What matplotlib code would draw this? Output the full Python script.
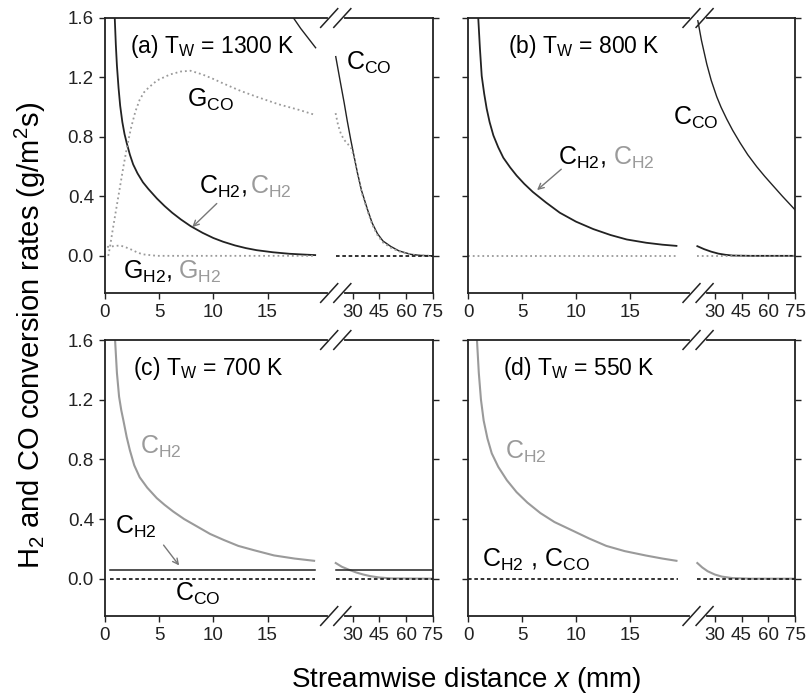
import numpy as np
import matplotlib
matplotlib.use('Agg')
import matplotlib.pyplot as plt

plt.rcParams['font.family'] = ['Liberation Sans', 'DejaVu Sans']
plt.rcParams['mathtext.fontset'] = 'custom'
plt.rcParams['mathtext.rm'] = 'Liberation Sans'
plt.rcParams['mathtext.it'] = 'Liberation Sans:italic'

GRAY = '#9a9a9a'
DARK = '#222222'

# broken x axis: 0-20 mm at full scale, 20-75 mm compressed
GAP = 1.2
K = 0.165

def fwd(x):
    x = np.asarray(x, float)
    return np.where(x <= 20, x, 20 + GAP + (x - 20) * K)

def inv(u):
    u = np.asarray(u, float)
    return np.where(u <= 20, u, np.where(u < 20 + GAP, 20, 20 + (u - 20 - GAP) / K))

# ---- panel (a) T_W = 1300 K ----
a_ch2_x = [0.9, 1.0, 1.1, 1.25, 1.4, 1.6, 1.8, 2.0, 2.3, 2.6, 3.0, 3.5, 4.0, 4.8, 5.5, 6.2, 7.0, 7.9,
           9.0, 10.0, 10.9, 12.0, 13.0, 14.0, 15.5, 17.0, 18.5, 19.4]
a_ch2_y = [1.6, 1.42, 1.28, 1.13, 1.01, 0.90, 0.82, 0.76, 0.68, 0.615, 0.555, 0.495, 0.45, 0.385, 0.335, 0.29, 0.245, 0.20,
           0.155, 0.12, 0.095, 0.07, 0.052, 0.038, 0.024, 0.014, 0.008, 0.005]
a_cco_lx = [17.4, 18.06, 19.44]
a_cco_ly = [1.6, 1.53, 1.40]
a_cco_rx = [20.6, 23, 25.3, 27, 29, 31, 32.7, 35, 38.4, 41, 43.9, 47, 51.4, 56, 62.6, 68, 75]
a_cco_ry = [1.34, 1.18, 1.03, 0.91, 0.78, 0.66, 0.56, 0.44, 0.31, 0.22, 0.15, 0.10, 0.063, 0.033, 0.01, 0.003, 0.0]
a_gco_lx = [0.3, 0.46, 0.7, 1.0, 1.35, 1.7, 2.05, 2.4, 2.8, 3.2, 3.6, 4.0, 4.8, 6.0, 7.0, 7.9,
            9.0, 10.0, 10.9, 12.5, 14.0, 16.0, 18.0, 19.3]
a_gco_ly = [0.0, 0.06, 0.17, 0.30, 0.45, 0.60, 0.74, 0.86, 0.97, 1.05, 1.10, 1.13, 1.18, 1.22, 1.24, 1.245,
            1.22, 1.19, 1.16, 1.11, 1.07, 1.02, 0.98, 0.95]
a_gco_rx = [20.5, 21.9, 23.5, 25.3, 27.5, 29.5, 31, 32.7, 35, 38.4, 41, 43.9, 47, 51.4, 56, 62.6, 68, 75]
a_gco_ry = [0.96, 0.88, 0.82, 0.78, 0.75, 0.72, 0.65, 0.55, 0.43, 0.30, 0.21, 0.14, 0.09, 0.055, 0.03, 0.009, 0.003, 0.0]
a_gh2_lx = [0.2, 0.8, 1.4, 2.0, 2.5, 3.0, 3.5, 4.8, 10, 19.3]
a_gh2_ly = [0.06, 0.065, 0.07, 0.055, 0.04, 0.022, 0.01, 0.0, 0.0, 0.0]
a_gh2_rx = [20.5, 75]
a_gh2_ry = [0.0, 0.0]

# ---- panel (b) T_W = 800 K ----
b_ch2_lx = [0.95, 1.1, 1.27, 1.5, 1.73, 2.0, 2.35, 2.8, 3.27, 3.9, 4.5, 5.2, 6.0, 7.2, 8.5, 10.0,
            11.6, 13.2, 14.7, 16.5, 18.0, 19.3]
b_ch2_ly = [1.6, 1.40, 1.21, 1.09, 0.99, 0.90, 0.81, 0.73, 0.66, 0.595, 0.54, 0.485, 0.43, 0.36, 0.29, 0.23,
            0.18, 0.14, 0.11, 0.088, 0.075, 0.067]
b_ch2_rx = [20.2, 24, 28, 32, 36, 40, 50, 75]
b_ch2_ry = [0.065, 0.045, 0.028, 0.015, 0.007, 0.002, 0.0, 0.0]
b_cco_x = [20.2, 22.5, 25.5, 28, 31.1, 33.5, 36.7, 40, 44.2, 48.5, 53.5, 58, 62.8, 68, 75]
b_cco_y = [1.6, 1.45, 1.29, 1.18, 1.07, 1.0, 0.92, 0.845, 0.76, 0.68, 0.60, 0.535, 0.47, 0.40, 0.31]
b_g_lx = [0.0, 19.3]
b_g_ly = [0.0, 0.0]
b_g_rx = [20.2, 75]
b_g_ry = [0.0, 0.0]

# ---- panel (c) T_W = 700 K ----
c_gh2_lx = [0.93, 1.1, 1.3, 1.5, 1.7, 2.0, 2.3, 2.7, 3.2, 3.9, 4.78, 5.5, 6.3, 7.3, 8.5, 9.7,
            10.95, 12.3, 13.8, 15.6, 17.5, 19.3]
c_gh2_ly = [1.6, 1.38, 1.22, 1.13, 1.06, 0.95, 0.86, 0.76, 0.68, 0.61, 0.54, 0.495, 0.45, 0.40, 0.35, 0.30,
            0.26, 0.22, 0.19, 0.156, 0.135, 0.12]
c_gh2_rx = [20.6, 24, 28, 32, 36, 40, 45, 51.5, 75]
c_gh2_ry = [0.105, 0.08, 0.06, 0.042, 0.028, 0.017, 0.008, 0.002, 0.0]
c_ch2_lx = [0.5, 19.4]
c_ch2_ly = [0.06, 0.06]
c_ch2_rx = [20.6, 75]
c_ch2_ry = [0.06, 0.06]
c_cco_lx = [0.5, 19.4]
c_cco_ly = [0.0, 0.0]
c_cco_rx = [20.6, 75]
c_cco_ry = [0.0, 0.0]

# ---- panel (d) T_W = 550 K ----
d_gh2_lx = [0.83, 1.0, 1.2, 1.45, 1.8, 2.2, 2.8, 3.6, 4.5, 5.5, 6.7, 8.0, 9.75, 11.2, 12.8,
            14.5, 16.5, 18.0, 19.3]
d_gh2_ly = [1.6, 1.38, 1.2, 1.06, 0.94, 0.84, 0.75, 0.66, 0.58, 0.51, 0.44, 0.38, 0.32, 0.27, 0.22,
            0.185, 0.155, 0.135, 0.12]
d_gh2_rx = [20.2, 23, 26, 30, 34, 40, 50, 75]
d_gh2_ry = [0.105, 0.075, 0.05, 0.028, 0.014, 0.004, 0.0, 0.0]
d_c_lx = [0.0, 19.4]
d_c_ly = [0.0, 0.0]
d_c_rx = [20.2, 75]
d_c_ry = [0.0, 0.0]

xticks = [0, 5, 10, 15, 30, 45, 60, 75]
yticks = [0.0, 0.4, 0.8, 1.2, 1.6]

W, H = 809, 696
fig = plt.figure(figsize=(W / 100, H / 100), dpi=100)

def make_ax(px_left, px_top, px_w, px_h, ylabels):
    ax = fig.add_axes([px_left / W, 1 - (px_top + px_h) / H, px_w / W, px_h / H])
    ax.set_xscale('function', functions=(fwd, inv))
    ax.set_xlim(0, 75)
    ax.set_ylim(-0.25, 1.6)
    ax.set_xticks(xticks)
    ax.set_xticklabels([str(t) for t in xticks])
    ax.set_yticks(yticks)
    if ylabels:
        ax.set_yticklabels(['%.1f' % t for t in yticks])
    else:
        ax.set_yticklabels([])
    ax.tick_params(axis='both', direction='out', length=4, width=1, color=DARK,
                   labelsize=13.5, labelcolor='#222222', pad=4)
    ax.tick_params(axis='y', right=True)
    for s in ax.spines.values():
        s.set_color(DARK)
        s.set_linewidth(1.3)
    # break marks on top and bottom spines
    xc = float(fwd(20.6) / fwd(75))
    for yy in (0, 1):
        ax.plot([xc - 0.018, xc + 0.018], [yy, yy], transform=ax.transAxes,
                color='white', lw=3, clip_on=False, zorder=5)
        for off in (-0.02, 0.02):
            ax.plot([xc + off - 0.026, xc + off + 0.026], [yy - 0.034, yy + 0.034],
                    transform=ax.transAxes, color=DARK, lw=1.1, clip_on=False, zorder=6)
    return ax

ax_a = make_ax(105, 18, 328, 275, True)
ax_b = make_ax(468, 18, 327, 275, False)
ax_c = make_ax(105, 340, 328, 276, True)
ax_d = make_ax(468, 340, 327, 276, False)

tsz = 16.5
lsz = 18

# (a)
ax_a.plot(a_ch2_x, a_ch2_y, color=DARK, lw=1.3)
ax_a.plot(a_cco_lx, a_cco_ly, color=DARK, lw=1.0)
ax_a.plot(a_cco_rx, a_cco_ry, color=DARK, lw=1.0)
ax_a.plot(a_gco_lx, a_gco_ly, color=GRAY, lw=1.3, ls=':')
ax_a.plot(a_gco_rx, a_gco_ry, color=GRAY, lw=1.3, ls=':')
ax_a.plot(a_gh2_lx, a_gh2_ly, color=GRAY, lw=1.3, ls=':')
ax_a.plot(a_gh2_rx, a_gh2_ry, color=DARK, lw=1.3, ls=(0, (2, 1.5)))
ax_a.text(2.3, 1.365, r'(a) T$_\mathrm{W}$ = 1300 K', fontsize=tsz, va='baseline')
ax_a.text(26.1, 1.25, r'C$_\mathrm{CO}$', fontsize=lsz, va='baseline')
ax_a.text(7.56, 1.0, r'G$_\mathrm{CO}$', fontsize=lsz, va='baseline')
ax_a.text(8.64, 0.42, r'C$_\mathrm{H2}$,', fontsize=lsz, va='baseline')
ax_a.text(13.4, 0.42, r'C$_\mathrm{H2}$', fontsize=lsz, va='baseline', color=GRAY)
ax_a.text(1.7, -0.157, r'G$_\mathrm{H2}$,', fontsize=lsz, va='baseline')
ax_a.text(6.7, -0.157, r'G$_\mathrm{H2}$', fontsize=lsz, va='baseline', color=GRAY)
ax_a.annotate('', xy=(7.87, 0.18), xytext=(10.5, 0.365),
              arrowprops=dict(arrowstyle='->', color='#777777', lw=1.0))

# (b)
ax_b.plot(b_ch2_lx, b_ch2_ly, color=DARK, lw=1.3)
ax_b.plot(b_ch2_rx, b_ch2_ry, color=DARK, lw=1.3)
ax_b.plot(b_cco_x, b_cco_y, color=DARK, lw=1.0)
ax_b.plot(b_g_lx, b_g_ly, color=GRAY, lw=1.3, ls=':')
ax_b.plot(b_g_rx, b_g_ry, color=GRAY, lw=1.3, ls=':')
ax_b.text(3.7, 1.365, r'(b) T$_\mathrm{W}$ = 800 K', fontsize=tsz, va='baseline')
ax_b.text(19.0, 0.88, r'C$_\mathrm{CO}$', fontsize=lsz, va='baseline')
ax_b.text(8.36, 0.61, r'C$_\mathrm{H2}$,', fontsize=lsz, va='baseline')
ax_b.text(13.4, 0.61, r'C$_\mathrm{H2}$', fontsize=lsz, va='baseline', color=GRAY)
ax_b.annotate('', xy=(6.2, 0.43), xytext=(8.83, 0.595),
              arrowprops=dict(arrowstyle='->', color='#777777', lw=1.0))

# (c)
ax_c.plot(c_gh2_lx, c_gh2_ly, color=GRAY, lw=1.5)
ax_c.plot(c_gh2_rx, c_gh2_ry, color=GRAY, lw=1.5)
ax_c.plot(c_ch2_lx, c_ch2_ly, color=DARK, lw=1.1)
ax_c.plot(c_ch2_rx, c_ch2_ry, color=DARK, lw=1.1)
ax_c.plot(c_cco_lx, c_cco_ly, color=DARK, lw=1.3, ls=(0, (2, 1.5)))
ax_c.plot(c_cco_rx, c_cco_ry, color=DARK, lw=1.3, ls=(0, (2, 1.5)))
ax_c.text(2.6, 1.365, r'(c) T$_\mathrm{W}$ = 700 K', fontsize=tsz, va='baseline')
ax_c.text(3.24, 0.84, r'C$_\mathrm{H2}$', fontsize=lsz, va='baseline', color=GRAY)
ax_c.text(0.93, 0.30, r'C$_\mathrm{H2}$', fontsize=lsz, va='baseline')
ax_c.text(6.48, -0.146, r'C$_\mathrm{CO}$', fontsize=lsz, va='baseline')
ax_c.annotate('', xy=(7.0, 0.074), xytext=(5.25, 0.24),
              arrowprops=dict(arrowstyle='->', color='#777777', lw=1.0))

# (d)
ax_d.plot(d_gh2_lx, d_gh2_ly, color=GRAY, lw=1.5)
ax_d.plot(d_gh2_rx, d_gh2_ry, color=GRAY, lw=1.5)
ax_d.plot(d_c_lx, d_c_ly, color=DARK, lw=1.3, ls=(0, (2, 1.5)))
ax_d.plot(d_c_rx, d_c_ry, color=DARK, lw=1.3, ls=(0, (2, 1.5)))
ax_d.text(3.24, 1.365, r'(d) T$_\mathrm{W}$ = 550 K', fontsize=tsz, va='baseline')
ax_d.text(3.43, 0.806, r'C$_\mathrm{H2}$', fontsize=lsz, va='baseline', color=GRAY)
ax_d.text(1.27, 0.078, r'C$_\mathrm{H2}$ , C$_\mathrm{CO}$', fontsize=lsz, va='baseline')

fig.text(30 / W, 1 - 335 / H, r'H$_2$ and CO conversion rates (g/m$^2$s)',
         rotation=90, ha='center', va='center', fontsize=21)
fig.text(466 / W, 1 - 680 / H, r'Streamwise distance $x$ (mm)',
         ha='center', va='center', fontsize=20)

fig.savefig('out.png', dpi=100)
